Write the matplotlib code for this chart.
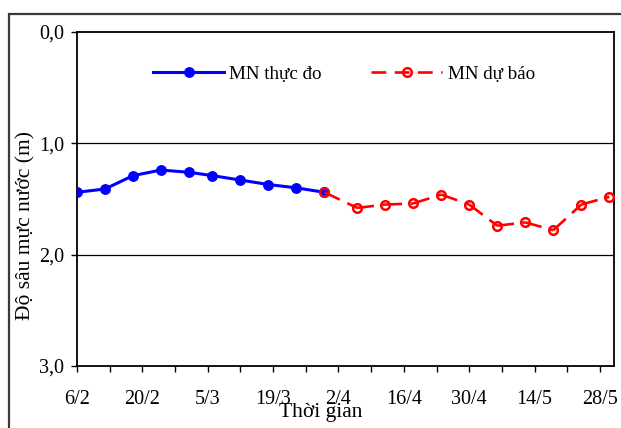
import matplotlib
matplotlib.use("Agg")
import matplotlib.pyplot as plt
from matplotlib.lines import Line2D
from matplotlib.patches import Rectangle
import pandas as pd

# Observed and forecast groundwater depth (m below surface)
obs_dates = ["6/2", "12/2", "18/2", "24/2", "1/3", "6/3", "12/3", "18/3", "24/3", "30/3"]
obs_depth = [1.44, 1.41, 1.29, 1.24, 1.26, 1.29, 1.33, 1.37, 1.40, 1.44]

fc_dates = ["30/3", "6/4", "12/4", "18/4", "24/4", "30/4", "6/5", "12/5", "18/5", "24/5", "30/5"]
fc_depth = [1.44, 1.58, 1.55, 1.54, 1.46, 1.55, 1.74, 1.71, 1.78, 1.55, 1.48]

tick_labels = ["6/2", "20/2", "5/3", "19/3", "2/4", "16/4", "30/4", "14/5", "28/5"]
y_ticks = [0.0, 1.0, 2.0, 3.0]
y_tick_labels = ["0,0", "1,0", "2,0", "3,0"]

YEAR = 2024


def to_dt(days):
    return pd.to_datetime([f"{d}/{YEAR}" for d in days], format="%d/%m/%Y")


obs_x = to_dt(obs_dates)
fc_x = to_dt(fc_dates)
tick_x = to_dt(tick_labels)

plt.rcParams["font.family"] = ["Liberation Serif", "DejaVu Serif"]

W, H = 621, 428
fig = plt.figure(figsize=(W / 100, H / 100), dpi=100)
ax = fig.add_axes([77 / W, 1 - 366 / H, (614 - 77) / W, (366 - 32) / H])

# outer chart frame
fig.patches.append(Rectangle((9 / W, -0.1), 1.2, 1 - 14 / H + 0.1, transform=fig.transFigure,
                             fill=False, edgecolor="#3a3a3a", linewidth=1.6, zorder=0))

# horizontal gridlines
for yv in y_ticks[1:-1]:
    ax.axhline(yv, color="black", linewidth=0.9, zorder=1)

# observed series
ax.plot(obs_x, obs_depth, color="#0000ff", linewidth=2.2, marker="o", markersize=6.8,
        markerfacecolor="#0000ff", markeredgecolor="#0000ff", zorder=3)

# forecast series: dash pattern restarts on every segment
dash = (6.4, 3.2)
for i in range(len(fc_x) - 1):
    ax.plot(fc_x[i:i + 2], fc_depth[i:i + 2], color="#ff0000", linewidth=1.9,
            dashes=dash, dash_capstyle="butt", zorder=4)
ax.plot(fc_x, fc_depth, linestyle="none", marker="o", markersize=6.2,
        markerfacecolor="none", markeredgecolor="#ff0000", markeredgewidth=1.8, zorder=5)

ax.set_ylim(3.0, 0.0)
ax.set_yticks(y_ticks)
ax.set_yticklabels(y_tick_labels)
ax.set_xlim(pd.Timestamp(f"{YEAR}-02-06"), pd.Timestamp(f"{YEAR}-05-31"))
ax.set_xticks(tick_x)
ax.set_xticklabels(tick_labels)
minor = pd.date_range(f"{YEAR}-02-13", f"{YEAR}-05-31", freq="14D")
ax.set_xticks(minor, minor=True)

ax.tick_params(axis="both", which="both", direction="out", length=4.3, width=1.0,
               color="black", labelsize=14.5)
ax.tick_params(axis="x", which="major", pad=13)
ax.tick_params(axis="y", which="major", pad=5)
for s in ax.spines.values():
    s.set_color("black")
    s.set_linewidth(1.3)

fig.text(26 / W, 1 - 225 / H, "Độ sâu mực nước (m)", rotation=90, ha="center", va="center",
         fontsize=15.5)
fig.text(321 / W, 1 - 413 / H, "Thời gian", ha="center", va="center", fontsize=15.5)

handles = [
    Line2D([], [], color="#0000ff", linewidth=2.2, marker="o", markersize=6.8,
           markerfacecolor="#0000ff", markeredgecolor="#0000ff"),
    Line2D([], [], color="#ff0000", linewidth=1.9, dashes=(5.6, 3.2), marker="o", markersize=6.2,
           markerfacecolor="none", markeredgecolor="#ff0000", markeredgewidth=1.8),
]
ax.legend(handles, ["MN thực đo", "MN dự báo"], ncol=2, frameon=False, fontsize=13.7,
          loc="center left", bbox_to_anchor=((153 - 77) / 537 - 0.017, 1 - (74 - 32) / 334),
          handlelength=3.7, handletextpad=0.3, columnspacing=2.6, borderpad=0)

fig.savefig("out.png", dpi=100)
